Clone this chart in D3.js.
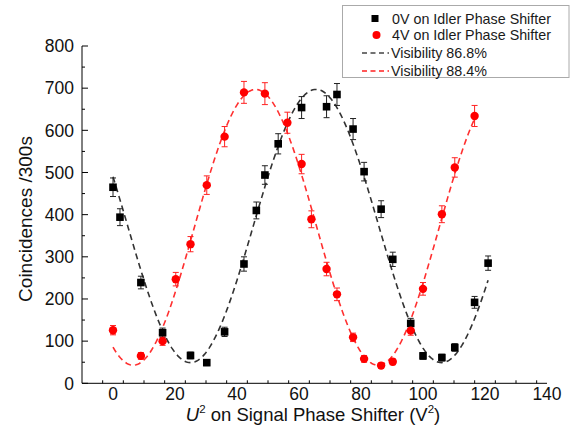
<!DOCTYPE html>
<html><head><meta charset="utf-8">
<script src="https://cdn.jsdelivr.net/npm/d3@7"></script>
<style>body{margin:0;background:#fff}svg{display:block;font-family:"Liberation Sans",Arial,sans-serif}</style>
</head><body>
<svg id="c" width="573" height="437"></svg>
<script>
// ---- data ----
const xTicks = [0, 20, 40, 60, 80, 100, 120, 140];
const yTicks = [0, 100, 200, 300, 400, 500, 600, 700, 800];
const blackX = [0, 2.25, 9, 16, 25, 30.25, 36, 42.25, 46.24, 49, 53.29, 60.84, 68.89, 72.25, 77.44, 81, 86.49, 90.25, 96.04, 100, 106.09, 110.25, 116.64, 121];
const blackY = [465, 394, 239, 120, 66, 49, 122, 283, 410, 494, 568, 654, 656, 685, 603, 502, 413, 294, 142, 65, 61, 85, 192, 285];
const blackErr = [22, 20, 15, 11, 8, 7, 11, 17, 20, 22, 24, 26, 26, 26, 25, 22, 20, 17, 12, 8, 8, 9, 14, 17];
const redX = [0, 9, 16, 20.25, 25, 30.25, 36, 42.25, 49, 56.25, 60.84, 64, 68.89, 72.25, 77.44, 81, 86.49, 90.25, 96.04, 100, 106.09, 110.25, 116.64];
const redY = [126, 65, 100, 247, 330, 470, 585, 690, 687, 618, 520, 389, 271, 211, 109, 58, 42, 51, 125, 224, 401, 512, 634];
const redErr = [11, 8, 10, 16, 18, 22, 24, 26, 26, 25, 23, 20, 16, 15, 10, 8, 6, 7, 11, 15, 20, 23, 25];
// sine fit parameters: y0 + A*cos(pi*(x - xc)/w)
const blackFit = {y0: 373, A: 324, xc: 65.5, w: 40.5, x0: 0, x1: 121};
const redFit = {y0: 370, A: 327, xc: 46, w: 39.5, x0: 0, x1: 116.64};
const legendLabels = ["0V on Idler Phase Shifter", "4V on Idler Phase Shifter", "Visibility 86.8%", "Visibility 88.4%"];

const svg = d3.select("#c");
const x = d3.scaleLinear().domain([-10, 140]).range([82, 547]);
const y = d3.scaleLinear().domain([0, 800]).range([383.3, 46]);

// axes
const xAxis = svg.append("g").attr("transform", `translate(0,${y(0)})`);
xAxis.append("line").attr("x1", x(-10)).attr("x2", x(140)).attr("stroke", "#000");
const xMinor = d3.range(-10, 140.01, 20/3).filter(v => v > -10);
xAxis.selectAll(".mn").data(xMinor).join("line")
  .attr("x1", d => x(d)).attr("x2", d => x(d)).attr("y1", 0).attr("y2", d => xTicks.some(t => Math.abs(t - d) < 0.01) ? -5 : -3)
  .attr("stroke", "#000");
xAxis.selectAll("text").data(xTicks).join("text")
  .attr("x", d => x(d)).attr("y", 16.5).attr("text-anchor", "middle").attr("font-size", 17.5).attr("fill", "#111").text(d => d);

const yAxis = svg.append("g").attr("transform", `translate(${x(-10)},0)`);
yAxis.append("line").attr("y1", y(0)).attr("y2", y(800)).attr("stroke", "#000");
const yAll = d3.range(0, 801, 50);
yAxis.selectAll(".t").data(yAll).join("line")
  .attr("y1", d => y(d)).attr("y2", d => y(d)).attr("x1", 0).attr("x2", d => d % 100 === 0 ? 6 : 3).attr("stroke", "#000");
yAxis.selectAll("text").data(yTicks).join("text")
  .attr("x", -8).attr("y", d => y(d)).attr("dy", "0.36em").attr("text-anchor", "end").attr("font-size", 17.5).attr("fill", "#111").text(d => d);

// titles
svg.append("text").attr("transform", "translate(32,219) rotate(-90)").attr("text-anchor", "middle")
  .attr("font-size", 19).attr("fill", "#111").text("Coincidences /300s");
const xt = svg.append("text").attr("x", 313).attr("y", 421).attr("text-anchor", "middle").attr("font-size", 18.5).attr("fill", "#111");
xt.append("tspan").attr("font-style", "italic").text("U");
xt.append("tspan").attr("font-size", 11.5).attr("dy", -8).text("2");
xt.append("tspan").attr("dy", 8).text(" on Signal Phase Shifter (V");
xt.append("tspan").attr("font-size", 11.5).attr("dy", -8).text("2");
xt.append("tspan").attr("dy", 8).text(")");

// fit curves
function fitLine(p, color) {
  const xs = d3.range(p.x0, p.x1, 0.5).concat([p.x1]);
  svg.append("path").datum(xs)
    .attr("d", d3.line().x(d => x(d)).y(d => y(p.y0 + p.A * Math.cos(Math.PI * (d - p.xc) / p.w))))
    .attr("fill", "none").attr("stroke", color).attr("stroke-width", 1.6).attr("stroke-dasharray", "6,4");
}
fitLine(blackFit, "#333");
fitLine(redFit, "#ff3030");

// error bars + markers
function errBars(xs, ys, es, color) {
  const g = svg.append("g").attr("stroke", color).attr("stroke-width", 1);
  xs.forEach((xv, i) => {
    const cx = x(xv), t = y(ys[i] + es[i]), b = y(ys[i] - es[i]);
    g.append("line").attr("x1", cx).attr("x2", cx).attr("y1", t).attr("y2", b);
    g.append("line").attr("x1", cx - 3).attr("x2", cx + 3).attr("y1", t).attr("y2", t);
    g.append("line").attr("x1", cx - 3).attr("x2", cx + 3).attr("y1", b).attr("y2", b);
  });
}
errBars(blackX, blackY, blackErr, "#222");
errBars(redX, redY, redErr, "#f22");
svg.append("g").selectAll("rect").data(blackX).join("rect")
  .attr("x", d => x(d) - 3.8).attr("y", (d, i) => y(blackY[i]) - 3.8).attr("width", 7.6).attr("height", 7.6).attr("fill", "#000");
svg.append("g").selectAll("circle").data(redX).join("circle")
  .attr("cx", d => x(d)).attr("cy", (d, i) => y(redY[i])).attr("r", 4.2).attr("fill", "#ff0000");

// legend
const lg = svg.append("g");
lg.append("rect").attr("x", 342.5).attr("y", 5.5).attr("width", 226.5).attr("height", 72).attr("fill", "#fff").attr("stroke", "#aaa");
const rows = [18.5, 35, 53, 71];
lg.append("rect").attr("x", 371.5).attr("y", rows[0] - 3.5).attr("width", 7).attr("height", 7).attr("fill", "#000");
lg.append("circle").attr("cx", 376.5).attr("cy", rows[1]).attr("r", 4).attr("fill", "#ff0000");
lg.append("line").attr("x1", 362).attr("x2", 389).attr("y1", rows[2]).attr("y2", rows[2]).attr("stroke", "#444").attr("stroke-width", 1.6).attr("stroke-dasharray", "5,3.5");
lg.append("line").attr("x1", 362).attr("x2", 389).attr("y1", rows[3]).attr("y2", rows[3]).attr("stroke", "#ff2020").attr("stroke-width", 1.6).attr("stroke-dasharray", "5,3.5");
lg.selectAll("text").data(legendLabels).join("text")
  .attr("x", (d, i) => i < 2 ? 392 : 391).attr("y", (d, i) => rows[i]).attr("dy", "0.36em").attr("font-size", 14.3).attr("fill", "#1a1a1a").text(d => d);
</script>
</body></html>
